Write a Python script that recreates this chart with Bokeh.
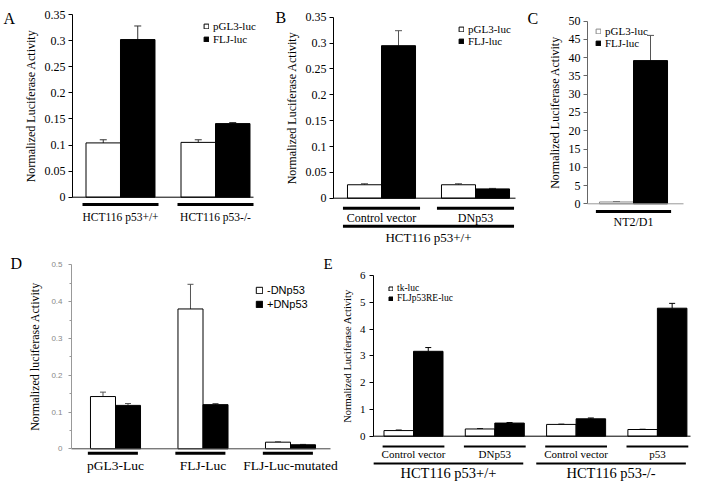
from bokeh.plotting import figure
from bokeh.layouts import row, column
from bokeh.models import (Range1d, FixedTicker, CustomJSTickFormatter, Label,
                          Legend, LegendItem, Whisker, TeeHead, ColumnDataSource)
from bokeh.core.properties import value
from bokeh.embed import file_html
from bokeh.resources import INLINE

SERIF = "Liberation Serif"
SANS = "Liberation Sans"

# ---------------- data ----------------
A_groups = ["HCT116 p53+/+", "HCT116 p53-/-"]
A_series = ["pGL3-luc", "FLJ-luc"]
A_pgl3 = [0.104, 0.105]
A_pgl3_sd = [0.006, 0.005]
A_flj = [0.302, 0.141]
A_flj_sd = [0.026, 0.002]
A_ticks = [0, 0.05, 0.1, 0.15, 0.2, 0.25, 0.3, 0.35]

B_groups = ["Control vector", "DNp53"]
B_cell = "HCT116 p53+/+"
B_series = ["pGL3-luc", "FLJ-luc"]
B_pgl3 = [0.026, 0.026]
B_pgl3_sd = [0.002, 0.002]
B_flj = [0.295, 0.018]
B_flj_sd = [0.029, 0.001]
B_ticks = [0, 0.05, 0.1, 0.15, 0.2, 0.25, 0.3, 0.35]

C_groups = ["NT2/D1"]
C_series = ["pGL3-luc", "FLJ-luc"]
C_pgl3 = [0.5]
C_pgl3_sd = [0.1]
C_flj = [39.2]
C_flj_sd = [6.9]
C_ticks = [0, 5, 10, 15, 20, 25, 30, 35, 40, 45, 50]

D_groups = ["pGL3-Luc", "FLJ-Luc", "FLJ-Luc-mutated"]
D_series = ["-DNp53", "+DNp53"]
D_minus = [0.142, 0.380, 0.018]
D_minus_sd = [0.012, 0.067, 0.001]
D_plus = [0.118, 0.120, 0.011]
D_plus_sd = [0.005, 0.003, 0.001]
D_ticks = [0, 0.1, 0.2, 0.3, 0.4, 0.5]
D_minor = [0.05, 0.15, 0.25, 0.35, 0.45]

E_groups = ["Control vector", "DNp53", "Control vector", "p53"]
E_cells = ["HCT116 p53+/+", "HCT116 p53-/-"]
E_cell_groups = [[0, 1], [2, 3]]
E_series = ["tk-luc", "FLJp53RE-luc"]
E_tk = [0.21, 0.27, 0.44, 0.25]
E_tk_sd = [0.02, 0.01, 0.01, 0.01]
E_flj = [3.17, 0.49, 0.65, 4.78]
E_flj_sd = [0.14, 0.02, 0.03, 0.18]
E_ticks = [0, 1, 2, 3, 4, 5, 6]


# ---------------- helpers ----------------
class Panel:
    """A figure whose frame fills it; page pixels map linearly to data."""
    def __init__(self, L, T, W, H, c0, g, y0, s, axis_px, base_end):
        self.L, self.T, self.W, self.H = L, T, W, H
        self.c0, self.g, self.y0, self.s = c0, g, y0, s
        self.p = figure(width=W, height=H,
                        x_range=Range1d(self.X(L), self.X(L + W)),
                        y_range=Range1d(self.Y(T + H), self.Y(T)),
                        x_axis_location=None, y_axis_location="left",
                        toolbar_location=None, output_backend="svg", title=None,
                        min_border_left=0, min_border_right=0,
                        min_border_top=0, min_border_bottom=0)
        self.p.grid.visible = False
        self.p.outline_line_color = None
        self.p.background_fill_color = "white"
        self.p.border_fill_color = "white"
        self.p.yaxis[0].fixed_location = self.X(axis_px)
        self.axis_px, self.base_end = axis_px, base_end

    def X(self, px):
        return (px - self.c0) / self.g

    def Y(self, py):
        return (self.y0 - py) / self.s


def bars(P, vals, sds, offset, width, fill, line, wcolor, head):
    x = [i + offset for i in range(len(vals))]
    up = [v + e for v, e in zip(vals, sds)]
    src = ColumnDataSource(dict(x=x, top=vals, up=up))
    r = P.p.vbar(x="x", top="top", bottom=0, width=width, source=src,
                 fill_color=fill, line_color=line, line_width=1)
    P.p.add_layout(Whisker(source=src, base="x", lower="top", upper="up",
                           dimension="height", line_color=wcolor, line_width=1,
                           upper_head=TeeHead(size=head, line_color=wcolor, line_width=1),
                           lower_head=None))
    return r


def style_y(P, ticks, label, tfont, tsize, lsize, color="black", minor=None,
            tcolor="black", standoff=3, lstandoff=4, tick_len=4):
    ax = P.p.yaxis[0]
    ax.ticker = FixedTicker(ticks=ticks, minor_ticks=minor or [])
    ax.bounds = (ticks[0], ticks[-1])
    ax.formatter = CustomJSTickFormatter(code="return String(Math.round(tick*1000)/1000)")
    ax.axis_line_color = color
    ax.major_tick_line_color = color
    ax.major_tick_out = tick_len
    ax.major_tick_in = 0
    ax.minor_tick_line_color = color if minor else None
    ax.minor_tick_out = 2
    ax.minor_tick_in = 0
    ax.major_label_text_font = tfont
    ax.major_label_text_font_size = tsize
    ax.major_label_text_color = tcolor
    ax.major_label_standoff = standoff
    ax.axis_label = label
    ax.axis_label_text_font = SERIF
    ax.axis_label_text_font_size = lsize
    ax.axis_label_text_font_style = "normal"
    ax.axis_label_text_color = "black"
    ax.axis_label_standoff = lstandoff


def baseline(P, color):
    P.p.segment(x0=[P.X(P.axis_px)], x1=[P.X(P.base_end)], y0=[0], y1=[0],
                line_color=color, line_width=1)


def underline(P, x0, x1, py, width=3):
    y = P.Y(py)
    P.p.segment(x0=x0, x1=x1, y0=[y] * len(x0), y1=[y] * len(x0),
                line_color="black", line_width=width)


def texts(P, xs, py, labels, size, font=SERIF):
    P.p.text(x=xs, y=[P.Y(py)] * len(xs), text=labels, text_font=value(font),
             text_font_size=size, text_align="center", text_baseline="middle",
             text_color="black")


def letter(P, px, py, t, size="16px"):
    P.p.add_layout(Label(x=P.X(px), y=P.Y(py), text=t, text_font=SERIF,
                         text_font_size=size, text_baseline="alphabetic",
                         text_align="left", text_color="black"))


def legend(P, rends, labels, left, first_center, pitch, font, size, glyph, standoff=4):
    items = [LegendItem(label=l, renderers=[r]) for l, r in zip(labels, rends)]
    top = first_center - pitch / 2
    bottom = top + pitch * len(items)
    lg = Legend(items=items, location=(left - P.L, P.T + P.H - bottom), padding=0,
                margin=0, spacing=0, border_line_color=None, background_fill_alpha=0,
                glyph_width=glyph, glyph_height=glyph, label_height=int(round(pitch)),
                label_standoff=standoff, label_text_font=font, label_text_font_size=size,
                label_text_color="black")
    P.p.add_layout(lg)


# ---------------- panel A ----------------
A = Panel(0, 0, 258, 245, 120, 95, 196.7, 522, 72, 253)
wA = 0.363
rA1 = bars(A, A_pgl3, A_pgl3_sd, -wA / 2, wA, "white", "black", "#333", 7)
rA2 = bars(A, A_flj, A_flj_sd, wA / 2, wA, "black", "black", "#333", 7)
style_y(A, A_ticks, "Normalized Luciferase Activity", SERIF, "12px", "12px")
baseline(A, "black")
nA = range(len(A_groups))
underline(A, [i - 0.4 for i in nA], [i + 0.4 for i in nA], 204)
texts(A, list(nA), 216.5, A_groups, "11.5px")
letter(A, 3, 18, "A")
legend(A, [rA1, rA2], A_series, 203, 26.7, 12.6, SERIF, "11px", 6)

# ---------------- panel B ----------------
B = Panel(258, 0, 266, 245, 381, 94, 197.7, 517, 333, 515)
wB = 0.362
rB1 = bars(B, B_pgl3, B_pgl3_sd, -wB / 2, wB, "white", "black", "#555", 7)
rB2 = bars(B, B_flj, B_flj_sd, wB / 2, wB, "black", "black", "#555", 7)
style_y(B, B_ticks, "Normalized Luciferase Activity", SERIF, "12px", "12px")
baseline(B, "black")
nB = range(len(B_groups))
underline(B, [i - 0.41 for i in nB], [i + 0.41 for i in nB], 207.7)
texts(B, list(nB), 217.7, B_groups, "12px")
underline(B, [-0.41], [len(B_groups) - 1 + 0.41], 225.7)
texts(B, [(len(B_groups) - 1) / 2], 236.7, [B_cell], "13px")
letter(B, 275, 17, "B")
legend(B, [rB1, rB2], B_series, 458, 30.7, 10.8, SERIF, "11px", 6)

# ---------------- panel C ----------------
C = Panel(524, 0, 179, 245, 633, 94, 203.3, 3.653, 587, 683)
wC = 0.362
rC1 = bars(C, C_pgl3, C_pgl3_sd, -wC / 2, wC, "white", "#888", "#555", 7)
rC2 = bars(C, C_flj, C_flj_sd, wC / 2, wC, "black", "black", "#555", 7)
style_y(C, C_ticks, "Normalized Luciferase Activity", SERIF, "12px", "12px", color="#666")
baseline(C, "#999")
nC = range(len(C_groups))
underline(C, [i - 0.4 for i in nC], [i + 0.4 for i in nC], 211)
texts(C, list(nC), 221.7, C_groups, "12px")
letter(C, 527, 18, "C")
legend(C, [rC1, rC2], C_series, 595, 32.3, 11, SERIF, "11px", 6)

# ---------------- panel D ----------------
D = Panel(0, 245, 343, 237, 115, 87.5, 448.3, 368, 71, 330)
wD = 0.286
rD1 = bars(D, D_minus, D_minus_sd, -wD / 2, wD, "white", "black", "#555", 6)
rD2 = bars(D, D_plus, D_plus_sd, wD / 2, wD, "black", "black", "#555", 6)
style_y(D, D_ticks, "Normalized luciferase Activity", SANS, "8px", "12px",
        color="#999", minor=D_minor, tcolor="#888", standoff=6, lstandoff=6, tick_len=3)
baseline(D, "#444")
nD = range(len(D_groups))
underline(D, [i - 0.03 - wD for i in nD], [i - 0.03 + wD for i in nD], 452.7)
texts(D, list(nD), 465, D_groups, "13.5px")
letter(D, 10, 263, "D")
letter(D, 323, 263, "E", "15px")
legend(D, [rD1, rD2], D_series, 255, 289, 14.5, SANS, "11px", 8)

# ---------------- panel E ----------------
E = Panel(343, 245, 360, 237, 413, 81.3, 435.7, 26.78, 373, 690)
wE = 0.363
rE1 = bars(E, E_tk, E_tk_sd, -wE / 2, wE, "white", "black", "black", 6)
rE2 = bars(E, E_flj, E_flj_sd, wE / 2, wE, "black", "black", "black", 6)
style_y(E, E_ticks, "Normalized Luciferase Activity", SERIF, "11px", "10.5px",
        standoff=4, lstandoff=4)
baseline(E, "black")
nE = range(len(E_groups))
underline(E, [i - 0.38 for i in nE], [i + 0.38 for i in nE], 446, width=2)
texts(E, list(nE), 453, E_groups, "11px")
x0s = [g[0] - 0.49 for g in E_cell_groups]
x1s = [g[-1] + 0.35 for g in E_cell_groups]
underline(E, x0s, x1s, 463, width=2)
texts(E, [(a + b) / 2 for a, b in zip(x0s, x1s)], 472, E_cells, "14.5px")
legend(E, [rE1, rE2], E_series, 388, 287.7, 10.3, SERIF, "9.5px", 5, standoff=4)

layout = column(row(A.p, B.p, C.p), row(D.p, E.p))
open("out.html", "w").write(file_html(layout, INLINE))
